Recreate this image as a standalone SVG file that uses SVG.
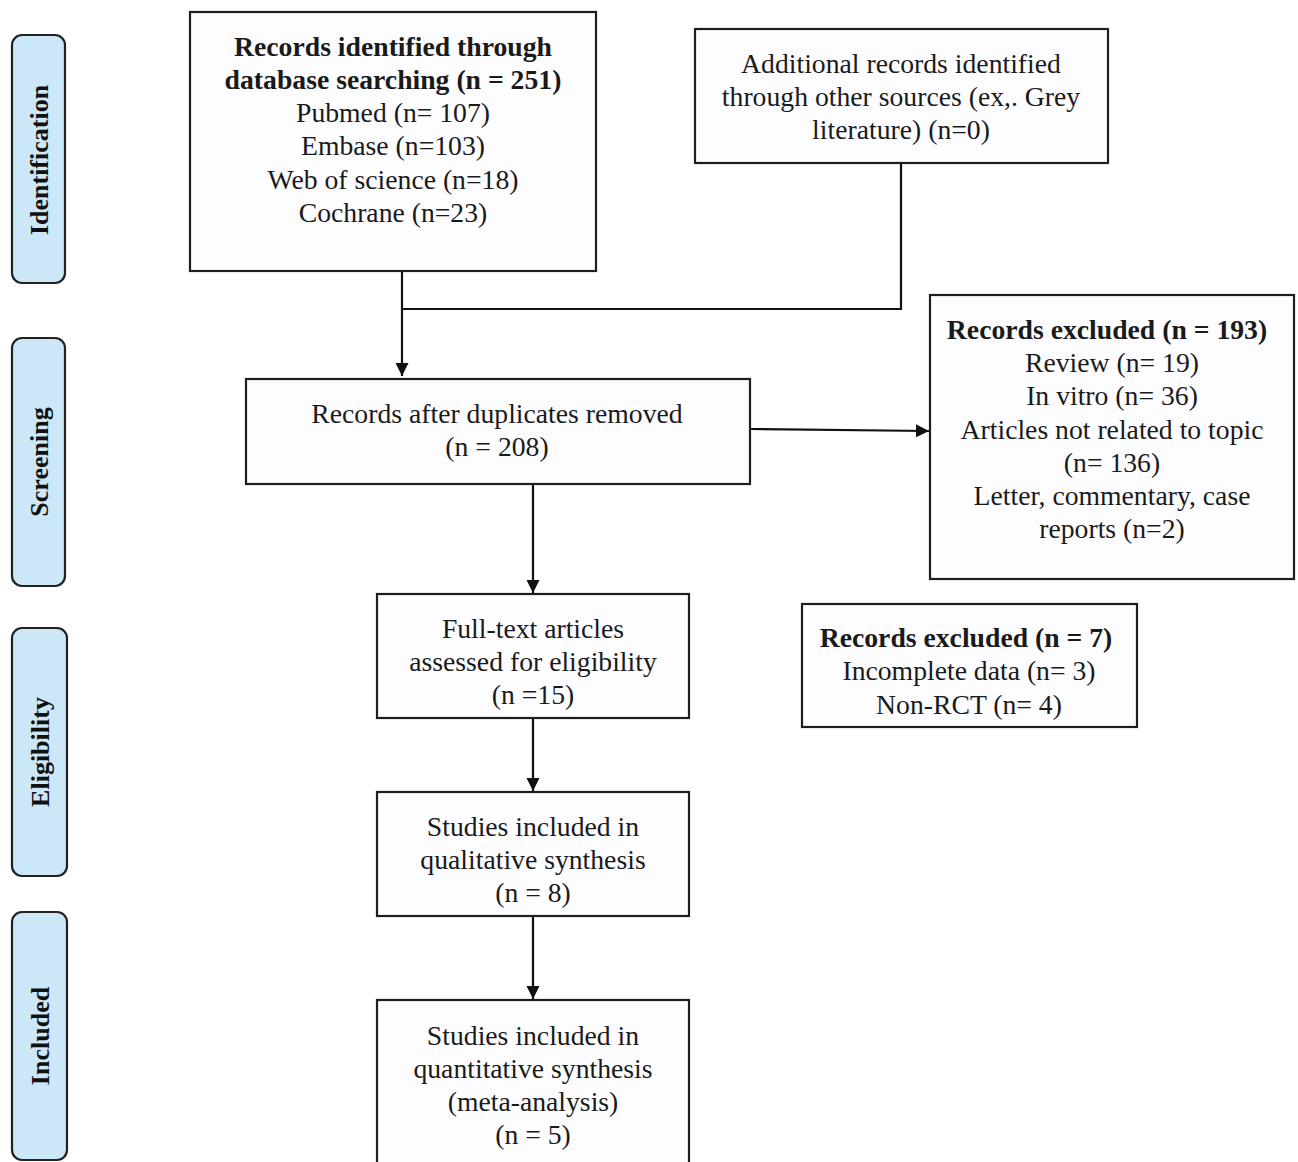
<svg xmlns="http://www.w3.org/2000/svg" width="1298" height="1162" viewBox="0 0 1298 1162">
<defs>
<style>
.box{fill:#fdfdff;stroke:#1e1e1e;stroke-width:2.2}
.side{fill:#cce7f7;stroke:#222;stroke-width:2.2}
.t{font-family:"Liberation Serif","Times New Roman",serif;font-size:27.7px;fill:#1a1a1a;text-anchor:middle}
.b{font-weight:bold}
.s{font-family:"Liberation Serif","Times New Roman",serif;font-size:26px;font-weight:bold;fill:#111;text-anchor:middle}
.ln{fill:none;stroke:#111;stroke-width:2.2}
</style>
<marker id="ah" viewBox="0 0 10 10" refX="10" refY="5" markerWidth="6" markerHeight="6" markerUnits="strokeWidth" orient="auto">
<path d="M0,0 L10,5 L0,10 z" fill="#111"/>
</marker>
</defs>
<rect width="1298" height="1162" fill="#ffffff"/>

<g id="phase-identification"><rect class="side" x="12" y="35" width="53" height="248" rx="10"/><text class="s" transform="translate(48,160) rotate(-90)">Identification</text></g>
<g id="phase-screening"><rect class="side" x="12" y="338" width="53" height="248" rx="10"/><text class="s" transform="translate(48,462) rotate(-90)">Screening</text></g>
<g id="phase-eligibility"><rect class="side" x="12" y="628" width="55" height="248" rx="10"/><text class="s" transform="translate(49,752) rotate(-90)">Eligibility</text></g>
<g id="phase-included"><rect class="side" x="12" y="912" width="55" height="248" rx="10"/><text class="s" transform="translate(49,1036) rotate(-90)">Included</text></g>

<g id="connectors">
<line class="ln" x1="402" y1="271" x2="402" y2="376" marker-end="url(#ah)"/>
<polyline class="ln" points="901,163 901,309 402,309"/>
<line class="ln" x1="750" y1="429" x2="929" y2="431" marker-end="url(#ah)"/>
<line class="ln" x1="533" y1="484" x2="533" y2="593" marker-end="url(#ah)"/>
<line class="ln" x1="533" y1="718" x2="533" y2="791" marker-end="url(#ah)"/>
<line class="ln" x1="533" y1="916" x2="533" y2="999" marker-end="url(#ah)"/>
</g>

<g id="db-search"><rect class="box" x="190" y="12" width="406" height="259"/>
<text class="t b" x="393" y="56">Records identified through</text>
<text class="t b" x="393" y="89">database searching (n = 251)</text>
<text class="t" x="393" y="122">Pubmed (n= 107)</text>
<text class="t" x="393" y="155">Embase (n=103)</text>
<text class="t" x="393" y="189">Web of science (n=18)</text>
<text class="t" x="393" y="222">Cochrane (n=23)</text></g>

<g id="other-sources"><rect class="box" x="695" y="29" width="413" height="134"/>
<text class="t" x="901" y="73">Additional records identified</text>
<text class="t" x="901" y="106">through other sources (ex,. Grey</text>
<text class="t" x="901" y="139">literature) (n=0)</text></g>

<g id="dedup"><rect class="box" x="246" y="379" width="504" height="105"/>
<text class="t" x="497" y="423">Records after duplicates removed</text>
<text class="t" x="497" y="456">(n = 208)</text></g>

<g id="excluded-193"><rect class="box" x="930" y="295" width="364" height="284"/>
<text class="t b" x="1107" y="339">Records excluded (n = 193)</text>
<text class="t" x="1112" y="372">Review (n= 19)</text>
<text class="t" x="1112" y="405">In vitro (n= 36)</text>
<text class="t" x="1112" y="439">Articles not related to topic</text>
<text class="t" x="1112" y="472">(n= 136)</text>
<text class="t" x="1112" y="505">Letter, commentary, case</text>
<text class="t" x="1112" y="538">reports (n=2)</text></g>

<g id="fulltext"><rect class="box" x="377" y="594" width="312" height="124"/>
<text class="t" x="533" y="638">Full-text articles</text>
<text class="t" x="533" y="671">assessed for eligibility</text>
<text class="t" x="533" y="704">(n =15)</text></g>

<g id="excluded-7"><rect class="box" x="802" y="604" width="335" height="123"/>
<text class="t b" x="966" y="647">Records excluded (n = 7)</text>
<text class="t" x="969" y="680">Incomplete data (n= 3)</text>
<text class="t" x="969" y="714">Non-RCT (n= 4)</text></g>

<g id="qualitative"><rect class="box" x="377" y="792" width="312" height="124"/>
<text class="t" x="533" y="836">Studies included in</text>
<text class="t" x="533" y="869">qualitative synthesis</text>
<text class="t" x="533" y="902">(n = 8)</text></g>

<g id="quantitative"><rect class="box" x="377" y="1000" width="312" height="180"/>
<text class="t" x="533" y="1045">Studies included in</text>
<text class="t" x="533" y="1078">quantitative synthesis</text>
<text class="t" x="533" y="1111">(meta-analysis)</text>
<text class="t" x="533" y="1144">(n = 5)</text></g>
</svg>
